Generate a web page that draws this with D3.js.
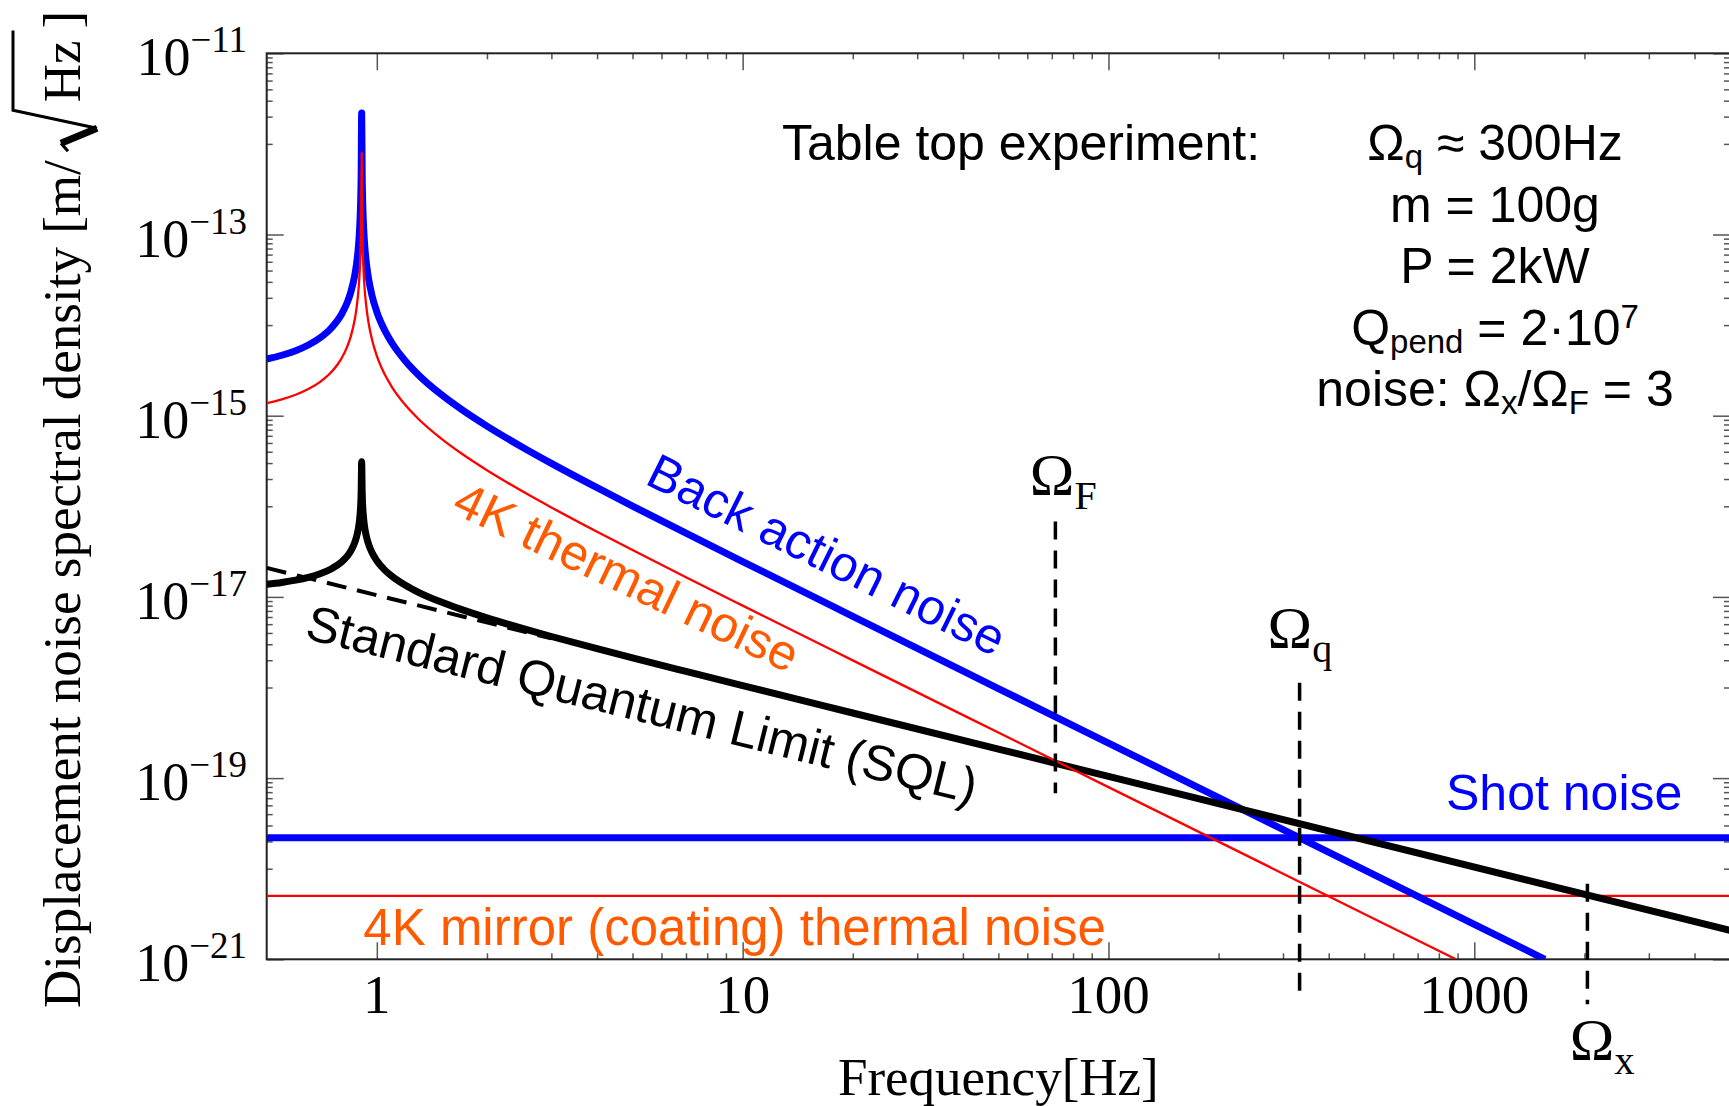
<!DOCTYPE html>
<html>
<head>
<meta charset="utf-8">
<script src="https://cdnjs.cloudflare.com/ajax/libs/d3/7.8.5/d3.min.js"></script>
<style>
  body { margin: 0; background: #fff; }
  svg { display: block; }
</style>
</head>
<body>
<script>
var resFreq = [0.5, 0.55, 0.6, 0.65, 0.7, 0.75, 0.8, 0.83, 0.85, 0.87,
               0.88, 0.89, 0.895, 0.9, 0.903, 0.906, 0.909, 0.912, 0.915, 0.918,
               0.925, 0.93, 0.94, 0.95, 0.97, 1.0, 1.05, 1.1, 1.2, 1.3,
               1.5, 1.7, 2, 2.5, 3, 4, 5, 7, 10, 20, 50, 100];

// back action noise [m/sqrt(Hz)]
var backAction = [4.225e-15, 4.649e-15, 5.222e-15, 6.030e-15, 7.241e-15, 9.231e-15, 1.307e-14, 1.772e-14, 2.346e-14, 3.509e-14,
                  4.692e-14, 7.120e-14, 9.625e-14, 1.494e-13, 2.234e-13, 4.427e-13, 2.2e-12, 4.509e-13, 2.234e-13, 1.485e-13,
                  8.311e-14, 6.308e-14, 4.250e-14, 3.196e-14, 2.125e-14, 1.402e-14, 8.816e-15, 6.346e-15, 3.968e-15, 2.819e-15,
                  1.710e-15, 1.180e-15, 7.672e-16, 4.490e-16, 2.979e-16, 1.605e-16, 1.007e-16, 5.055e-17, 2.455e-17, 6.100e-18,
                  9.743e-19, 2.435e-19];
var backActionTailFreq = [1000, 1560];
var backActionTail = [2.435e-21, 1.0e-21];

// 4K suspension thermal noise
var thermal4K = [1.380e-15, 1.518e-15, 1.705e-15, 1.969e-15, 2.364e-15, 3.014e-15, 4.267e-15, 5.786e-15, 7.659e-15, 1.146e-14,
                 1.532e-14, 2.325e-14, 3.142e-14, 4.877e-14, 7.294e-14, 1.445e-13, 8.0e-13, 1.472e-13, 7.294e-14, 4.848e-14,
                 2.713e-14, 2.060e-14, 1.387e-14, 1.043e-14, 6.937e-15, 4.577e-15, 2.878e-15, 2.072e-15, 1.295e-15, 9.205e-16,
                 5.584e-16, 3.852e-16, 2.505e-16, 1.466e-16, 9.726e-17, 5.239e-17, 3.289e-17, 1.650e-17, 8.016e-18, 1.992e-18,
                 3.181e-19, 7.950e-20];
var thermalTailFreq = [891];
var thermalTail = [1.0e-21];

// SQL of the pendulum
var sqlOsc = [1.377e-17, 1.444e-17, 1.530e-17, 1.644e-17, 1.802e-17, 2.035e-17, 2.421e-17, 2.819e-17, 3.243e-17, 3.967e-17,
              4.587e-17, 5.652e-17, 6.568e-17, 8.183e-17, 1.001e-16, 1.408e-16, 3.1e-16, 1.422e-16, 1.001e-16, 8.158e-17,
              6.104e-17, 5.318e-17, 4.365e-17, 3.786e-17, 3.087e-17, 2.507e-17, 1.989e-17, 1.687e-17, 1.334e-17, 1.124e-17,
              8.758e-18, 7.274e-18, 5.866e-18, 4.487e-18, 3.655e-18, 2.683e-18, 2.125e-18, 1.506e-18, 1.049e-18, 5.23e-19,
              2.09e-19, 1.045e-19];
var sqlTailFreq = [5000];
var sqlTail = [2.09e-21];

// free mass SQL (dashed)
var sqlFreeFreq = [0.5, 3];
var sqlFree = [2.09e-17, 3.48e-18];

// flat noise floors
var flatFreq = [0.5, 5000];
var shotNoise = [2.2e-20, 2.2e-20];
var coatingNoise = [5.0e-21, 5.0e-21];

// characteristic frequencies (dashed markers)
var omegaNames = ["F", "q", "x"];
var omegaFreq = [71.6, 333, 2038];
var omegaTop = [6.8e-17, 1.13e-18, 6.8e-21];
var omegaBottom = [6.8e-20, 3.8e-22, 3.2e-22];

// ticks
var xTickLabels = ["1", "10", "100", "1000"];
var xMajor = [1, 10, 100, 1000];
var yTickExps = [-11, -13, -15, -17, -19, -21];

var serif = "'Liberation Serif', 'Times New Roman', serif";
var sans = "'Liberation Sans', Arial, sans-serif";

// plot box (window.top is read-only, so no bare "top")
var box = {left: 266.7, right: 1730, top: 53.3, bottom: 959.3};

var x = d3.scaleLog().domain([0.5, 5000]).range([box.left, box.right]);
var y = d3.scaleLog().domain([1e-21, 1e-11]).range([box.bottom, box.top]);

var svg = d3.select("body").append("svg")
    .attr("width", 1729)
    .attr("height", 1106);

svg.append("clipPath").attr("id", "plot")
  .append("rect")
    .attr("x", box.left).attr("y", box.top)
    .attr("width", box.right - box.left).attr("height", box.bottom - box.top);

// minor tick values
var xMinor = [];
[1, 10, 100, 1000].forEach(function(d) {
    for (var k = 2; k <= 9; k++) if (d * k <= 5000) xMinor.push(d * k);
});
var yMinor = [];
[-12, -14, -16, -18, -20].forEach(function(e) {
    for (var k = 1; k <= 9; k++) yMinor.push(k * Math.pow(10, e));
});
var yMajor = yTickExps.map(function(e) { return Math.pow(10, e); });

function ticks(axis, values, size, transform) {
    svg.append("g")
        .attr("transform", transform)
        .call(axis.tickValues(values).tickSize(size).tickSizeOuter(0).tickFormat(""))
        .call(function(g) { g.select(".domain").remove(); })
        .selectAll("line")
        .attr("stroke", "#555")
        .attr("stroke-width", 1.5);
}

ticks(d3.axisLeft(y), yMajor, -17, "translate(" + box.left + ",0)");
ticks(d3.axisLeft(y), yMinor, -6, "translate(" + box.left + ",0)");
ticks(d3.axisRight(y), yMajor, -17, "translate(" + box.right + ",0)");
ticks(d3.axisRight(y), yMinor, -6, "translate(" + box.right + ",0)");
ticks(d3.axisBottom(x), xMajor, -17, "translate(0," + box.bottom + ")");
ticks(d3.axisBottom(x), xMinor, -6, "translate(0," + box.bottom + ")");
ticks(d3.axisTop(x), xMajor, -17, "translate(0," + box.top + ")");
ticks(d3.axisTop(x), xMinor, -6, "translate(0," + box.top + ")");

// frame
svg.append("rect")
    .attr("x", box.left).attr("y", box.top)
    .attr("width", box.right - box.left).attr("height", box.bottom - box.top)
    .attr("fill", "none")
    .attr("stroke", "#222")
    .attr("stroke-width", 2);

// curves
var line = d3.line()
    .x(function(d) { return x(d[0]); })
    .y(function(d) { return y(d[1]); })
    .curve(d3.curveMonotoneX);

function series(freq, vals) {
    return freq.map(function(f, i) { return [f, vals[i]]; });
}

var curves = svg.append("g").attr("clip-path", "url(#plot)");

function drawCurve(data, color, w, dash) {
    curves.append("path")
        .datum(data)
        .attr("fill", "none")
        .attr("stroke", color)
        .attr("stroke-width", w)
        .attr("stroke-linejoin", "round")
        .attr("stroke-dasharray", dash || null)
        .attr("d", line);
}

drawCurve(series(flatFreq, coatingNoise), "#ff0000", 2.3);
drawCurve(series(flatFreq, shotNoise), "#0000ff", 7);
drawCurve(series(resFreq.concat(backActionTailFreq), backAction.concat(backActionTail)), "#0000ff", 7);
drawCurve(series(resFreq.concat(sqlTailFreq), sqlOsc.concat(sqlTail)), "#000000", 7);
drawCurve(series(sqlFreeFreq, sqlFree), "#000000", 4, "20,11");
drawCurve(series(resFreq.concat(thermalTailFreq), thermal4K.concat(thermalTail)), "#ff0000", 2.3);

// dashed frequency markers
svg.append("g").selectAll("line")
    .data(omegaFreq)
    .join("line")
    .attr("x1", function(d) { return x(d); })
    .attr("x2", function(d) { return x(d); })
    .attr("y1", function(d, i) { return y(omegaTop[i]); })
    .attr("y2", function(d, i) { return y(omegaBottom[i]); })
    .attr("stroke", "#000")
    .attr("stroke-width", 3.5)
    .attr("stroke-dasharray", "18,11");

// marker labels: omega with subscript
var omegaLabelPos = [[-25.6, -26.7, "top"], [-32, -34.4, "top"], [-17.6, 56, "bottom"]];
omegaFreq.forEach(function(f, i) {
    var p = omegaLabelPos[i];
    var yy = (p[2] === "top" ? y(omegaTop[i]) : y(omegaBottom[i])) + p[1];
    var t = svg.append("text")
        .attr("x", x(f) + p[0])
        .attr("y", yy)
        .style("font-family", serif)
        .style("font-size", "60px");
    t.append("tspan").text("Ω");
    t.append("tspan").attr("dy", 14).style("font-size", "40px").text(omegaNames[i]);
});

// y tick labels
yTickExps.forEach(function(e) {
    var t = svg.append("text")
        .attr("x", 247)
        .attr("y", y(Math.pow(10, e)) + 22)
        .attr("text-anchor", "end")
        .style("font-family", serif)
        .style("font-size", "54px");
    t.append("tspan").text("10");
    t.append("tspan").attr("dy", -23).style("font-size", "37px").text("\u2212" + Math.abs(e));
});

// x tick labels
svg.append("g").selectAll("text")
    .data(xMajor)
    .join("text")
    .attr("x", function(d) { return x(d); })
    .attr("y", 1013)
    .attr("text-anchor", "middle")
    .style("font-family", serif)
    .style("font-size", "55px")
    .text(function(d, i) { return xTickLabels[i]; });

// x axis title
svg.append("text")
    .attr("x", (box.left + box.right) / 2)
    .attr("y", 1095)
    .attr("text-anchor", "middle")
    .style("font-family", serif)
    .style("font-size", "53px")
    .text("Frequency[Hz]");

// y axis title, with a drawn square root
var yTitle = svg.append("g").attr("transform", "translate(80,1008) rotate(-90)");
var t1 = yTitle.append("text")
    .attr("x", 0).attr("y", 0)
    .style("font-family", serif)
    .style("font-size", "53px")
    .text("Displacement noise spectral density [m/");
var L1 = t1.node().getComputedTextLength();
var t2 = yTitle.append("text")
    .attr("x", L1 + 58).attr("y", 0)
    .style("font-family", serif)
    .style("font-size", "53px")
    .text("Hz");
var L2 = t2.node().getComputedTextLength();
yTitle.append("text")
    .attr("x", L1 + 58 + L2 + 12).attr("y", 0)
    .style("font-family", serif)
    .style("font-size", "53px")
    .text("]");
yTitle.append("path")
    .attr("d", "M" + (L1 + 9) + ",-12 L" + (L1 + 17) + ",-19")
    .attr("stroke", "#000").attr("stroke-width", 3).attr("fill", "none");
yTitle.append("path")
    .attr("d", "M" + (L1 + 17) + ",-19 L" + (L1 + 32) + ",17")
    .attr("stroke", "#000").attr("stroke-width", 7).attr("fill", "none");
yTitle.append("path")
    .attr("d", "M" + (L1 + 32) + ",17 L" + (L1 + 50) + ",-67 L" + (L1 + 58 + L2 + 10) + ",-67")
    .attr("stroke", "#000").attr("stroke-width", 3).attr("fill", "none");

// curve labels
function angleOf(f1, v1, f2, v2) {
    return Math.atan2(y(v2) - y(v1), x(f2) - x(f1)) * 180 / Math.PI;
}
var baAngle = angleOf(100, backAction[41], 1000, backActionTail[0]);
var sqlAngle = angleOf(resFreq[41], sqlOsc[41], 5000, sqlTail[0]);

function slanted(f, v, angle, color, txt) {
    svg.append("text")
        .attr("transform", "translate(" + x(f) + "," + y(v) + ") rotate(" + angle + ")")
        .style("font-family", sans)
        .style("font-size", "50px")
        .attr("fill", color)
        .text(txt);
}
slanted(5.36, 1.8e-16, baAngle, "#0000ff", "Back action noise");
slanted(1.586, 8.7e-17, baAngle - 0.8, "#ff5a00", "4K thermal noise");
slanted(0.63, 3.5e-18, sqlAngle, "#000000", "Standard Quantum Limit (SQL)");

svg.append("text")
    .attr("x", x(837)).attr("y", y(4.45e-20))
    .style("font-family", sans).style("font-size", "50px")
    .attr("fill", "#0000ff")
    .text("Shot noise");
svg.append("text")
    .attr("x", x(0.9186)).attr("y", y(1.44e-21))
    .style("font-family", sans).style("font-size", "51px")
    .attr("fill", "#ff5a00")
    .text("4K mirror (coating) thermal noise");

// parameter box
svg.append("text")
    .attr("x", 782).attr("y", 160)
    .style("font-family", sans).style("font-size", "50px")
    .text("Table top experiment:");

var paramLines = [
    [["Ω", 0], ["q", 1], [" ≈ 300Hz", 0]],
    [["m = 100g", 0]],
    [["P = 2kW", 0]],
    [["Q", 0], ["pend", 1], [" = 2·10", 0], ["7", 2]],
    [["noise: Ω", 0], ["x", 1], ["/Ω", 0], ["F", 1], [" = 3", 0]]
];
paramLines.forEach(function(parts, i) {
    var t = svg.append("text")
        .attr("x", 1495)
        .attr("y", 160 + i * 61.6)
        .attr("text-anchor", "middle")
        .style("font-family", sans)
        .style("font-size", "50px");
    var shift = 0;
    parts.forEach(function(p) {
        var target = p[1] === 1 ? 8 : (p[1] === 2 ? -17 : 0);
        var ts = t.append("tspan").attr("dy", target - shift).text(p[0]);
        if (p[1]) ts.style("font-size", "33px");
        shift = target;
    });
});
</script>
</body>
</html>
